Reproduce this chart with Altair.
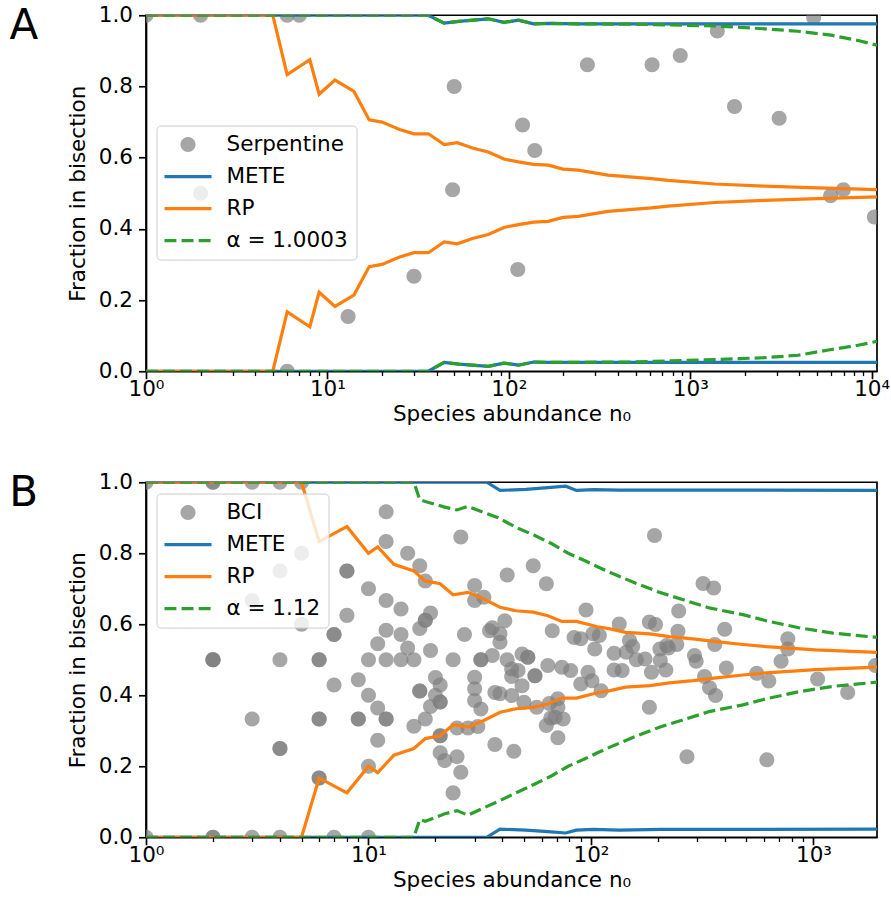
import altair as alt
import pandas as pd

# ---------------- Panel A (Serpentine) ----------------
serp_n = [1, 2, 2, 6, 7, 6, 13, 30, 49, 50, 112, 119, 139, 271, 616, 881, 1410, 1754, 3090, 4790, 5940, 6980, 10350]
serp_f = [1.0, 1.0, 0.5, 1.0, 1.0, 0.0, 0.154, 0.267, 0.51, 0.80, 0.286, 0.692, 0.62, 0.861, 0.861, 0.887, 0.956, 0.744, 0.711, 0.994, 0.493, 0.51, 0.433]

A_rp_n = [1, 5, 6, 8, 9, 11, 14, 17, 20, 25, 30, 36, 44, 52, 63, 77, 94, 113, 137, 165, 199, 241, 352, 610, 755, 1366, 2568, 5040, 10700]
A_rp_hi = [1, 1, 0.833, 0.875, 0.778, 0.818, 0.786, 0.706, 0.70, 0.679, 0.667, 0.667, 0.637, 0.642, 0.627, 0.616, 0.596, 0.588, 0.581, 0.579, 0.568, 0.565, 0.551, 0.541, 0.536, 0.526, 0.52, 0.515, 0.51]
A_rp_lo = [0, 0, 0.167, 0.125, 0.222, 0.182, 0.214, 0.294, 0.30, 0.321, 0.333, 0.333, 0.363, 0.358, 0.373, 0.384, 0.404, 0.412, 0.419, 0.421, 0.432, 0.435, 0.449, 0.459, 0.464, 0.474, 0.48, 0.485, 0.49]

A_mete_n = [1, 36, 44, 53, 77, 94, 113, 137, 165, 241, 610, 1366, 10700]
A_mete_hi = [1, 1, 0.978, 0.983, 0.99, 0.98, 0.986, 0.976, 0.977, 0.976, 0.976, 0.976, 0.976]
A_mete_lo = [0, 0, 0.025, 0.02, 0.014, 0.023, 0.017, 0.026, 0.025, 0.025, 0.025, 0.025, 0.025]

A_alpha_n = [1, 36, 44, 53, 77, 94, 113, 137, 165, 241, 470, 1366, 2568, 3926, 5980, 8410, 10700]
A_alpha_hi = [1, 1, 0.978, 0.983, 0.99, 0.98, 0.986, 0.976, 0.977, 0.976, 0.975, 0.97, 0.962, 0.955, 0.944, 0.929, 0.916]
A_alpha_lo = [0, 0, 0.025, 0.02, 0.014, 0.023, 0.017, 0.026, 0.025, 0.025, 0.026, 0.033, 0.038, 0.045, 0.061, 0.073, 0.084]

A_labels = ["Serpentine", "METE", "RP", "α = 1.0003"]
A_xmax = 10700

# ---------------- Panel B (BCI) ----------------
bci_n = [1, 2, 2, 3, 4, 5,
         1, 2, 2, 3, 4, 7, 10,
         2, 2, 2, 4, 6, 6, 3, 4, 4, 6, 6, 6, 6,
         5, 4, 3, 5,
         12, 12, 8, 8, 15, 17, 18, 10, 12, 14, 19, 18, 18, 17, 8, 7, 7, 12, 14, 11, 15, 19,
         10, 12, 14, 16, 24,
         7, 9, 10, 11, 9, 9, 12, 12, 11, 10, 17, 17, 20, 21, 20, 21, 21, 19, 18, 16, 21, 21, 21, 22, 24,
         26, 42, 55, 63, 30, 30, 33, 95, 41, 36, 35, 39, 39, 27, 67, 84, 90, 102, 104, 32, 32, 36, 42, 49, 52, 52,
         44, 47, 64, 74, 81, 97, 56, 56, 30, 44, 49, 90, 101, 30, 37, 39, 44, 30, 32, 50, 57, 65, 71, 71, 69, 75, 66,
         63, 71, 25, 28, 31, 37, 45, 25, 26,
         193, 319, 356, 248, 134, 183, 195, 399, 246, 109, 149, 154, 127, 144, 160, 175, 204, 219, 223, 243, 205,
         292, 297, 360, 127, 138, 187, 217, 324, 406, 111, 341, 363, 183, 270,
         767, 767, 715, 556, 630, 1044, 1425, 1898, 617]
bci_f = [1.0, 1.0, 1.0, 1.0, 1.0, 1.0,
         0.0, 0.0, 0.0, 0.0, 0.0, 0.0, 0.0,
         0.5, 0.5, 0.5, 0.5, 0.5, 0.5, 0.333, 0.25, 0.25, 0.333, 0.333, 0.167, 0.167,
         0.8, 0.75, 0.667, 0.6,
         0.917, 0.833, 0.75, 0.75, 0.8, 0.765, 0.722, 0.7, 0.667, 0.643, 0.632, 0.611, 0.611, 0.588, 0.625, 0.571, 0.571, 0.583, 0.571, 0.545, 0.533, 0.526,
         0.5, 0.5, 0.5, 0.5, 0.5,
         0.429, 0.444, 0.4, 0.364, 0.333, 0.333, 0.333, 0.333, 0.273, 0.2, 0.412, 0.412, 0.45, 0.429, 0.4, 0.381, 0.381, 0.368, 0.333, 0.3125, 0.286, 0.286, 0.238, 0.216, 0.125,
         0.846, 0.739, 0.765, 0.714, 0.709, 0.667, 0.676, 0.64, 0.61, 0.59, 0.582, 0.573, 0.549, 0.571, 0.582, 0.563, 0.559, 0.573, 0.53, 0.5, 0.5, 0.512, 0.5, 0.516, 0.507, 0.507,
         0.474, 0.47, 0.484, 0.479, 0.47, 0.465, 0.455, 0.455, 0.451, 0.453, 0.427, 0.432, 0.441, 0.418, 0.408, 0.404, 0.399, 0.385, 0.361, 0.38, 0.366, 0.377, 0.39, 0.366, 0.338, 0.333, 0.336,
         0.315, 0.28, 0.308, 0.308, 0.312, 0.261, 0.242, 0.227, 0.183,
         0.85, 0.715, 0.702, 0.637, 0.601, 0.606, 0.599, 0.586, 0.58, 0.568, 0.554, 0.537, 0.518, 0.521, 0.5, 0.502, 0.53, 0.54, 0.533, 0.543, 0.498,
         0.512, 0.496, 0.543, 0.471, 0.47, 0.465, 0.471, 0.453, 0.477, 0.413, 0.421, 0.399, 0.366, 0.227,
         0.559, 0.53, 0.496, 0.462, 0.44, 0.446, 0.408, 0.484, 0.218]

B_rp_n = [1, 5, 6, 8, 10, 11, 13, 16, 18, 21, 24, 28, 33, 39, 46, 55, 64, 74, 86, 107, 122, 143, 184, 225, 287, 365, 482, 612, 1022, 1930]
B_rp_hi = [1, 1, 0.833, 0.875, 0.80, 0.818, 0.769, 0.75, 0.722, 0.714, 0.683, 0.69, 0.671, 0.648, 0.638, 0.634, 0.624, 0.608, 0.608, 0.593, 0.587, 0.577, 0.573, 0.565, 0.559, 0.551, 0.543, 0.537, 0.528, 0.521]
B_rp_lo = [0, 0, 0.167, 0.125, 0.20, 0.182, 0.231, 0.25, 0.278, 0.286, 0.317, 0.31, 0.329, 0.352, 0.362, 0.366, 0.376, 0.392, 0.392, 0.407, 0.413, 0.423, 0.427, 0.435, 0.441, 0.449, 0.457, 0.463, 0.472, 0.479]

B_mete_n = [1, 34, 39, 51, 64, 77, 86, 103, 134, 207, 415, 1930]
B_mete_hi = [1, 1, 0.977, 0.98, 0.985, 0.989, 0.977, 0.979, 0.978, 0.978, 0.978, 0.977]
B_mete_lo = [0, 0, 0.023, 0.02, 0.016, 0.012, 0.02, 0.022, 0.02, 0.022, 0.022, 0.023]

B_alpha_n = [1, 16, 17, 18, 22, 25, 28, 33, 38, 46, 56, 67, 79, 94, 107, 126, 160, 203, 260, 340, 482, 612, 861, 1222, 1930]
B_alpha_hi = [1, 1, 0.951, 0.946, 0.93, 0.922, 0.932, 0.915, 0.901, 0.873, 0.85, 0.826, 0.8, 0.779, 0.762, 0.742, 0.715, 0.69, 0.669, 0.646, 0.627, 0.61, 0.59, 0.575, 0.563]
B_alpha_lo = [0, 0, 0.05, 0.045, 0.066, 0.075, 0.062, 0.083, 0.1, 0.125, 0.15, 0.174, 0.2, 0.221, 0.238, 0.258, 0.285, 0.31, 0.331, 0.354, 0.373, 0.39, 0.41, 0.425, 0.437]

B_labels = ["BCI", "METE", "RP", "α = 1.12"]
B_xmax = 1930

# ---------------- styling ----------------
FONT = "DejaVu Sans"
FS = 21.5
SYM = 462  # symbol size (px^2): unit = sqrt(SYM)/2 = 10.75 px
COLORS = ["#808080", "#1f77b4", "#ff7f0e", "#2ca02c"]
CIRCLE = "M-0.698,0A0.698,0.698,0,1,0,0.698,0A0.698,0.698,0,1,0,-0.698,0Z"
LINE = "M-2.186,-0.149H2.186V0.149H-2.186Z"
DASH = ("M-2.186,-0.149H-1.079V0.149H-2.186Z"
        "M-0.595,-0.149H0.512V0.149H-0.595Z"
        "M0.995,-0.149H2.102V0.149H0.995Z")
SHAPES = [CIRCLE, LINE, LINE, DASH]
MAJOR_TEST = "indexof([1,10,100,1000,10000], datum.value) >= 0"
LABEL_EXPR = ("datum.value == 1 ? '10⁰' : datum.value == 10 ? '10¹' : "
              "datum.value == 100 ? '10²' : datum.value == 1000 ? '10³' : "
              "datum.value == 10000 ? '10⁴' : ''")
W = 731


def log_ticks(xmax):
    vals = []
    d = 1
    while d <= xmax:
        for m in range(1, 10):
            v = m * d
            if v <= xmax:
                vals.append(v)
        d *= 10
    return vals


def panel(pn, pf, labels, lines, xmax, letter, legend_xy, height):
    xscale = alt.Scale(type="log", domain=[1, xmax], nice=False)
    yscale = alt.Scale(domain=[0, 1], nice=False, zero=False)
    xaxis = alt.Axis(values=log_ticks(xmax), labelExpr=LABEL_EXPR,
                     tickSize={"condition": {"test": MAJOR_TEST, "value": 7.5}, "value": 4.3},
                     tickWidth={"condition": {"test": MAJOR_TEST, "value": 1.7}, "value": 1.3},
                     title="Species abundance n₀", labelFlush=False, labelOverlap=False,
                     labelPadding=0, titlePadding=3)
    yaxis = alt.Axis(values=[0, 0.2, 0.4, 0.6, 0.8, 1.0], format=".1f",
                     title="Fraction in bisection", tickSize=7.5, tickWidth=1.7,
                     labelPadding=6, titlePadding=9.3)
    leg = alt.Legend(title=None, orient="none", legendX=legend_xy[0], legendY=legend_xy[1],
                     labelFont=FONT, labelFontSize=FS, labelColor="black",
                     symbolSize=SYM, symbolStrokeWidth=0, symbolOffset=12.5, labelOffset=27.5,
                     rowPadding=10, padding=8, fillColor="rgba(255,255,255,0.8)",
                     strokeColor="#cccccc", cornerRadius=4, zindex=1, labelLimit=300)
    pts = pd.DataFrame({"n": pn, "f": pf, "series": labels[0]})
    points = alt.Chart(pts).mark_point(filled=True, size=SYM, strokeWidth=0, clip=True).encode(
        x=alt.X("n:Q", scale=xscale, axis=xaxis),
        y=alt.Y("f:Q", scale=yscale, axis=yaxis),
        color=alt.Color("series:N", scale=alt.Scale(domain=labels, range=COLORS), legend=leg),
        shape=alt.Shape("series:N", scale=alt.Scale(domain=labels, range=SHAPES), legend=leg),
        opacity=alt.Opacity("series:N", scale=alt.Scale(type="ordinal", domain=labels,
                                                        range=[0.7, 1, 1, 1]), legend=leg),
    )
    layers = [points]
    for (ln, hi, lo), col, dash in zip(lines, COLORS[1:], [None, None, [12, 5]]):
        df = pd.DataFrame({"n": ln + ln, "f": hi + lo,
                           "branch": ["hi"] * len(ln) + ["lo"] * len(ln)})
        kw = dict(color=col, strokeWidth=3.2, clip=True)
        if dash:
            kw["strokeDash"] = dash
        layers.append(alt.Chart(df).mark_line(**kw).encode(
            x=alt.X("n:Q", scale=xscale), y=alt.Y("f:Q", scale=yscale), detail="branch:N"))
    return alt.layer(*layers).properties(
        width=W, height=height,
        title=alt.TitleParams(letter, orient="left", anchor="end", frame="group", angle=0,
                              align="right", baseline="top", dy=-9.5, offset=0,
                              fontSize=42, fontWeight="normal", font=FONT, color="black"))


pA = panel(serp_n, serp_f, A_labels,
           [(A_mete_n, A_mete_hi, A_mete_lo), (A_rp_n, A_rp_hi, A_rp_lo),
            (A_alpha_n, A_alpha_hi, A_alpha_lo)], A_xmax, "A", (10.5, 110.3), 356)
pB = panel(bci_n, bci_f, B_labels,
           [(B_mete_n, B_mete_hi, B_mete_lo), (B_rp_n, B_rp_hi, B_rp_lo),
            (B_alpha_n, B_alpha_hi, B_alpha_lo)], B_xmax, "B", (10.5, 11.3), 355)

chart = alt.vconcat(pA, pB, spacing=44).resolve_scale(
    color="independent", shape="independent", opacity="independent",
    x="independent", y="independent").resolve_legend(
    color="independent", shape="independent", opacity="independent").properties(
    padding={"left": 8, "top": 3.25, "right": 0, "bottom": 0}
).configure(font=FONT).configure_view(stroke="black", strokeWidth=1.7).configure_axis(
    labelFont=FONT, labelFontSize=FS, labelColor="black", titleFont=FONT,
    titleFontSize=FS, titleFontWeight="normal", titleColor="black",
    domainColor="black", domainWidth=1.7, tickColor="black", grid=False)

chart.save("out.html", embed_options={"renderer": "svg", "actions": False})
